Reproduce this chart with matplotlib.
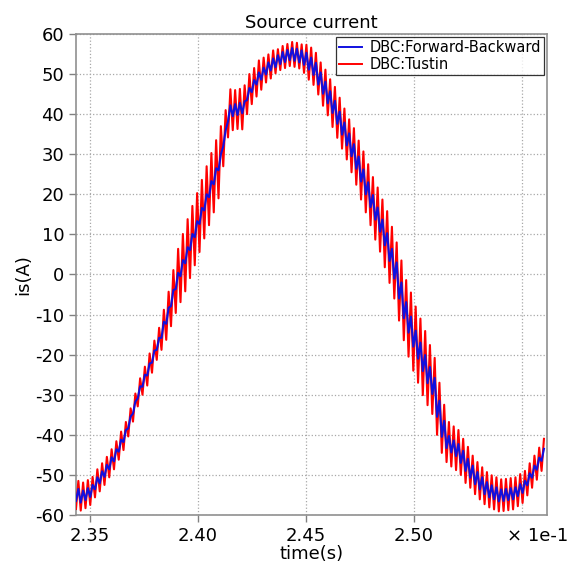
import numpy as np
import matplotlib
matplotlib.use('Agg')
import matplotlib.pyplot as plt

# switching-cycle start times (x 1e-1 s)
t_cycle = [2.3435, 2.3457, 2.3479, 2.3501, 2.3523, 2.3545, 2.3567, 2.3589, 2.3611, 2.3633,
           2.3655, 2.3677, 2.3699, 2.3721, 2.3743, 2.3765, 2.3787, 2.3809, 2.3831, 2.3853,
           2.3875, 2.3897, 2.3919, 2.3941, 2.3963, 2.3985, 2.4007, 2.4029, 2.4051, 2.4073,
           2.4095, 2.4117, 2.4139, 2.4161, 2.4183, 2.4205, 2.4227, 2.4249, 2.4271, 2.4293,
           2.4315, 2.4337, 2.4359, 2.4381, 2.4403, 2.4425, 2.4447, 2.4469, 2.4491, 2.4513,
           2.4535, 2.4557, 2.4579, 2.4601, 2.4623, 2.4645, 2.4667, 2.4689, 2.4711, 2.4733,
           2.4755, 2.4777, 2.4799, 2.4821, 2.4843, 2.4865, 2.4887, 2.4909, 2.4931, 2.4953,
           2.4975, 2.4997, 2.5019, 2.5041, 2.5063, 2.5085, 2.5107, 2.5129, 2.5151, 2.5173,
           2.5195, 2.5217, 2.5239, 2.5261, 2.5283, 2.5305, 2.5327, 2.5349, 2.5371, 2.5393,
           2.5415, 2.5437, 2.5459, 2.5481, 2.5503, 2.5525, 2.5547, 2.5569, 2.5591]
half_period = 0.0011

# mean source current in each cycle (A)
is_mid = [-55.0, -55.4, -54.8, -54.0, -52.1, -50.6, -49.0, -47.1, -45.1, -42.7,
          -40.3, -36.9, -33.2, -29.4, -26.5, -23.7, -20.5, -17.3, -13.8, -10.3,
          -5.9, -1.6, 1.6, 4.8, 8.1, 11.3, 14.6, 18.0, 21.3, 24.5,
          28.0, 34.0, 40.2, 41.0, 41.3, 41.7, 45.0, 47.0, 48.9, 50.1,
          51.4, 52.4, 53.2, 54.0, 54.5, 55.0, 54.8, 54.4, 53.8, 52.6,
          51.3, 48.9, 46.6, 44.2, 41.8, 39.1, 36.4, 33.7, 31.0, 27.9,
          24.7, 21.5, 18.3, 15.2, 12.2, 8.8, 4.9, 1.0, -4.0, -8.9,
          -12.5, -16.0, -19.0, -22.1, -25.1, -27.8, -33.5, -38.5, -41.8, -42.9,
          -43.8, -45.5, -47.5, -49.2, -50.8, -52.1, -53.3, -54.1, -54.6, -55.1,
          -55.0, -54.8, -54.6, -53.8, -53.0, -51.1, -49.2, -47.2, -45.0]

# half peak-to-peak ripple of each controller (A)
tustin_amp = [3.5, 3.5, 3.5, 3.5, 3.5, 3.5, 3.5, 3.5, 3.5, 3.5,
              3.5, 3.5, 3.5, 3.5, 3.5, 4, 4, 4, 5, 6,
              7, 8, 8.5, 9, 9, 9, 9, 9, 9, 9,
              9, 7, 6, 5, 5, 5.5, 5, 4.5, 4.5, 4,
              3.5, 3.5, 3, 3, 3, 3, 3, 3, 3.5, 4,
              4, 4, 4.5, 4.5, 5, 5, 5, 5, 5.5, 5.5,
              6, 6, 6, 6.5, 6.5, 7, 7, 7, 7.5, 7.5,
              8, 8, 8, 8, 7.5, 7, 6.5, 6, 5, 5,
              5, 4.5, 4.5, 4, 4, 4, 4, 4, 4, 4,
              4, 4, 4, 4, 4, 4, 4, 4, 4]
fb_amp = [1.5, 1.5, 1.5, 1.5, 1.5, 1.5, 1.5, 1.5, 1.5, 1.5,
          1.5, 1.5, 1.5, 1.5, 1.5, 1.5, 1.5, 1.5, 2, 2,
          2, 2, 2, 2, 2, 2, 2, 2, 2, 2,
          2, 2, 2, 1.5, 1.5, 1.5, 1.5, 1.5, 1.5, 1.5,
          1.5, 1.5, 1.5, 1.5, 1.5, 1.5, 1.5, 1.5, 1.5, 1.5,
          1.5, 1.5, 1.5, 1.5, 1.5, 1.5, 1.5, 1.5, 1.5, 1.5,
          1.5, 1.5, 1.5, 1.5, 1.5, 1.5, 1.5, 2, 2, 2,
          2, 2, 2, 2, 2, 2, 2, 2, 1.5, 1.5,
          1.5, 1.5, 1.5, 1.5, 1.5, 1.5, 1.5, 1.5, 1.5, 1.5,
          1.5, 1.5, 1.5, 1.5, 1.5, 1.5, 1.5, 1.5, 1.5]

x_ticks = [2.35, 2.40, 2.45, 2.50]
x_ticklabels = ['2.35', '2.40', '2.45', '2.50']
y_ticks = [-60, -50, -40, -30, -20, -10, 0, 10, 20, 30, 40, 50, 60]


def zigzag(mid, amp):
	'''low at the start of each cycle, high half a cycle later'''
	t = np.array(t_cycle)
	mid = np.array(mid)
	amp = np.array(amp)
	x = np.column_stack((t, t + half_period)).ravel()
	y = np.column_stack((mid - amp, mid + amp)).ravel()
	return x, y


plt.rcParams['axes.unicode_minus'] = False
plt.rcParams['font.family'] = 'DejaVu Sans'

fig = plt.figure(figsize=(5.7, 5.74), dpi=100)
ax = fig.add_axes([0.1333, 0.1028, 0.8263, 0.838])

xr, yr = zigzag(is_mid, tustin_amp)
xb, yb = zigzag(is_mid, fb_amp)
ax.plot(xr, yr, color='#ff0000', lw=1.5, zorder=3)
ax.plot(xb, yb, color='#1010e0', lw=1.5, zorder=4)

# legend handles (blue first, like the original)
hb, = ax.plot([], [], color='#1010e0', lw=1.4, label='DBC:Forward-Backward')
hr, = ax.plot([], [], color='#ff0000', lw=1.4, label='DBC:Tustin')
leg = ax.legend(handles=[hb, hr], loc='upper right', fontsize=10.5, frameon=True,
				fancybox=False, borderaxespad=0.2, handlelength=1.6, handletextpad=0.5,
				borderpad=0.2, labelspacing=0.15)
leg.get_frame().set_edgecolor('black')
leg.get_frame().set_linewidth(0.9)

ax.set_xlim(2.3435, 2.5616)
ax.set_ylim(-60, 60)
ax.set_xticks(x_ticks)
ax.set_xticklabels(x_ticklabels)
ax.set_yticks(y_ticks)
ax.tick_params(labelsize=13, color='#808080', length=5, width=1)
ax.grid(True, ls=':', color='#a8a8a8', lw=0.9)
ax.axvline(2.55, ls=':', color='#a8a8a8', lw=0.9, zorder=0.5)
for s in ax.spines.values():
	s.set_color('#909090')
	s.set_linewidth(1.2)

ax.annotate('× 1e-1', xy=(0.981, 0), xycoords='axes fraction', xytext=(0, -9),
			textcoords='offset points', ha='center', va='top', fontsize=13)
ax.set_title('Source current', fontsize=13, pad=4)
ax.set_xlabel('time(s)', fontsize=13, labelpad=0)
ax.set_ylabel('is(A)', fontsize=13, labelpad=2)

plt.savefig('out.png', dpi=100)
